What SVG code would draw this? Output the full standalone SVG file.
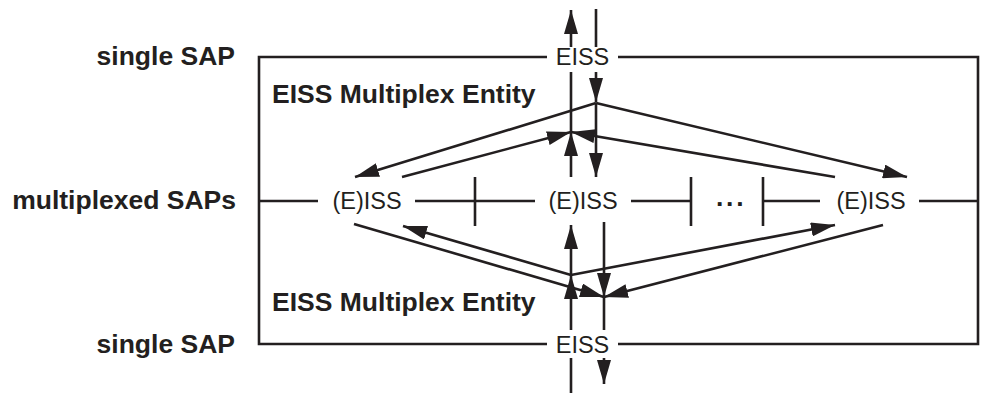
<svg xmlns="http://www.w3.org/2000/svg" width="981" height="396" viewBox="0 0 981 396">
  <style>
    .ln { fill: none; stroke: #231f20; stroke-width: 2.6; }
    .ar { fill: none; stroke: #231f20; stroke-width: 2.6; marker-end: url(#ah); }
    .reg { font-family: "Liberation Sans", Arial, sans-serif; font-size: 23.5px; fill: #231f20; }
    .bold { font-family: "Liberation Sans", Arial, sans-serif; font-size: 26.5px; font-weight: bold; fill: #231f20; }
  </style>
  <defs>
    <marker id="ah" viewBox="0 0 24 14" refX="24" refY="7" markerWidth="24" markerHeight="14" markerUnits="userSpaceOnUse" orient="auto">
      <path d="M0,0 L24,7 L0,14 Z" fill="#231f20"/>
    </marker>
  </defs>
  <rect width="981" height="396" fill="#ffffff"/>

  <g id="boundaries">
    <path class="ln" d="M547,57 H259 V344 H547 M618,344 H978 V57 H618"/>
    <path class="ln" d="M259,201 H318 M415,201 H535 M631,201 H691 M763,201 H820 M919,201 H978"/>
    <path class="ln" d="M475,177 V226 M691,177 V226 M763,177 V226"/>
  </g>

  <g id="labels">
    <text class="bold" x="235" y="65" text-anchor="end">single SAP</text>
    <text class="bold" x="236" y="209" text-anchor="end">multiplexed SAPs</text>
    <text class="bold" x="235" y="353" text-anchor="end">single SAP</text>
  </g>

  <g id="top-entity">
    <text class="bold" x="272" y="103">EISS Multiplex Entity</text>
  </g>
  <g id="bottom-entity">
    <text class="bold" x="272" y="311">EISS Multiplex Entity</text>
  </g>

  <g id="top-eiss">
    <text class="reg" x="582.5" y="65" text-anchor="middle">EISS</text>
  </g>
  <g id="bottom-eiss">
    <text class="reg" x="582.5" y="352.5" text-anchor="middle">EISS</text>
  </g>
  <g id="left-eiss">
    <text class="reg" x="367" y="209" text-anchor="middle">(E)ISS</text>
  </g>
  <g id="center-eiss">
    <text class="reg" x="583" y="209" text-anchor="middle">(E)ISS</text>
  </g>
  <g id="right-eiss">
    <text class="reg" x="871" y="209" text-anchor="middle">(E)ISS</text>
  </g>
  <g id="ellipsis">
    <text class="bold" x="716" y="206" font-size="30" letter-spacing="2.7">...</text>
  </g>

  <g id="connectors">
    <!-- top entity -->
    <path class="ar" d="M571,132 V72 M571,47 V10"/>
    <path class="ar" d="M596,9 V47 M596,72 V102"/>
    <path class="ar" d="M596,103 L355,177"/>
    <path class="ar" d="M596,103 L907,177"/>
    <path class="ar" d="M596,103 V177"/>
    <path class="ar" d="M402,177 L571,132"/>
    <path class="ar" d="M835,177 L571,132"/>
    <path class="ar" d="M571,177 V132"/>
    <!-- bottom entity -->
    <path class="ar" d="M571,393 V358 M571,330 V275"/>
    <path class="ar" d="M571,275 L403,226"/>
    <path class="ar" d="M571,275 L835,225"/>
    <path class="ar" d="M571,275 V225"/>
    <path class="ar" d="M354,224 L604,297"/>
    <path class="ar" d="M883,225 L604,297"/>
    <path class="ar" d="M604,222 V297"/>
    <path class="ar" d="M604,297 V330 M604,358 V384"/>
  </g>
</svg>
